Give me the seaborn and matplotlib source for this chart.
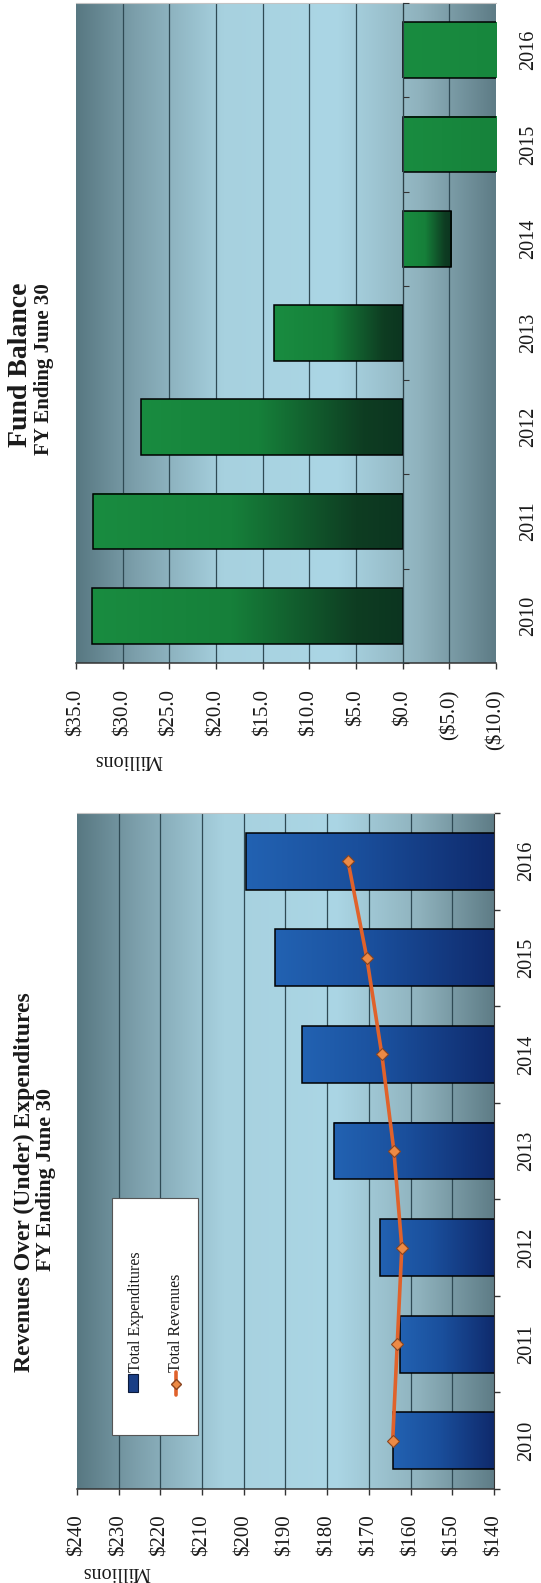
import numpy as np
import matplotlib
matplotlib.use("Agg")
import matplotlib.pyplot as plt
from matplotlib.patches import Rectangle
from matplotlib.colors import LinearSegmentedColormap
import seaborn as sns

years = ["2010", "2011", "2012", "2013", "2014", "2015", "2016"]
total_expenditures = [164.2, 162.6, 167.3, 178.3, 186.0, 192.6, 199.4]
total_revenues = [164.3, 163.2, 162.1, 164.0, 166.9, 170.5, 175.0]
# 2015 / 2016 run off the bottom of the axis (clipped at -10)
fund_balance = [33.25, 33.2, 28.0, 13.8, -5.2, -27.4, -51.8]

rev_ticks = list(range(140, 241, 10))
fund_ticks = list(range(-10, 36, 5))

sns.set_style("white")
plt.rcParams['font.family'] = ['Liberation Serif', 'DejaVu Serif']
plt.rcParams['text.color'] = '#1a1a1a'

TXT = '#1a1a1a'
AXC = '#333333'

bg_cmap = LinearSegmentedColormap.from_list('bg', [
    (0.0, '#587882'), (0.14, '#7c9fab'), (0.35, '#a7d1df'),
    (0.62, '#abd6e5'), (0.82, '#8fb2bd'), (1.0, '#5e7c86')])
blue_cmap = LinearSegmentedColormap.from_list('blue', [
    (0.0, '#2262b2'), (0.45, '#1a4f9c'), (1.0, '#0f2a6c')])
green_cmap = LinearSegmentedColormap.from_list('green', [
    (0.0, '#198c40'), (0.45, '#16803a'), (0.85, '#0e3d22'), (1.0, '#0c3520')])


def gradient_bg(ax):
    grad = bg_cmap(np.linspace(0, 1, 256))[None, :, :3]
    ax.imshow(grad, extent=(0, 1, 0, 1), transform=ax.transAxes,
              aspect='auto', zorder=0, interpolation='bilinear')


def shade_bars(ax, cmap, base=None):
    grad = cmap(np.linspace(0, 1, 256))[None, :, :3]
    for p in list(ax.patches):
        x0 = p.get_x()
        x1 = x0 + p.get_width()
        lo, hi = min(x0, x1), max(x0, x1)
        if base is not None:
            lo = max(lo, base)
        ax.imshow(grad, extent=(hi, lo, p.get_y(), p.get_y() + p.get_height()),
                  aspect='auto', zorder=2, interpolation='bilinear')
        p.set_facecolor('none')
        p.set_zorder(3)


def style_axes(ax, ticks, labels, pad_x, pad_y):
    ax.set_xticks(ticks, labels=labels)
    ax.tick_params(axis='x', which='major', bottom=True, top=False, direction='out',
                   length=4, width=1, color=AXC, pad=pad_x, labelsize=15,
                   labelrotation=90, labelcolor=TXT)
    ax.yaxis.tick_right()
    ax.tick_params(axis='y', which='major', left=False, right=False, labelleft=False,
                   labelright=True, labelrotation=90, pad=pad_y, labelsize=14.5,
                   labelcolor=TXT)
    for t in ax.get_yticklabels():
        t.set_va('center')
    ax.set_xlabel('')
    ax.set_ylabel('')
    ax.spines['left'].set_visible(False)
    ax.spines['top'].set_color('#c4c4c4')
    ax.spines['bottom'].set_color(AXC)
    ax.spines['bottom'].set_linewidth(1.1)
    ax.grid(axis='x', which='major', color='#2f4a54', linewidth=0.9)
    ax.grid(axis='y', visible=False)
    ax.set_axisbelow(True)
    # no grid line on the outer edges of the plot area
    for tk, v in zip(ax.xaxis.get_major_ticks(), ticks):
        if v in (min(ticks), max(ticks)):
            tk.gridline.set_visible(False)


fig = plt.figure(figsize=(5.41, 15.83), dpi=100)
ax_fund = fig.add_axes([0.1405, 0.5812, 0.7763, 0.4169])
ax_rev = fig.add_axes([0.1423, 0.0594, 0.7708, 0.4270])

# ---------------- Fund Balance (top) ----------------
sns.barplot(x=fund_balance, y=years, orient='h', color='#16803a', width=0.59,
            edgecolor='black', linewidth=1.1, saturation=1, errorbar=None, ax=ax_fund)
gradient_bg(ax_fund)
shade_bars(ax_fund, green_cmap)

# category axis sits at $0 (twin only carries that line and its ticks)
ax_fz = ax_fund.twinx()
ax_fz.set_ylim(-0.5, 6.5)
ax_fz.spines['right'].set_position(('data', 0))
ax_fz.spines['right'].set_color('#2c3f46')
for s in ['left', 'top', 'bottom']:
    ax_fz.spines[s].set_visible(False)
ax_fz.set_yticks(np.arange(-0.5, 7, 1))
ax_fz.tick_params(axis='y', right=True, left=False, direction='out', length=4,
                  color=AXC, labelright=False, labelleft=False)
ax_fz.grid(False)

fund_labels = [f"${v:.1f}" if v >= 0 else f"(${-v:.1f})" for v in fund_ticks]
style_axes(ax_fund, fund_ticks, fund_labels, pad_x=15, pad_y=13)
ax_fund.spines['right'].set_visible(False)
ax_fund.set_xlim(35, -10)
ax_fund.set_ylim(-0.5, 6.5)

# ---------------- Revenues vs Expenditures (bottom) ----------------
sns.barplot(x=total_expenditures, y=years, orient='h', color='#1a4f9c', width=0.59,
            edgecolor='black', linewidth=1.1, saturation=1, errorbar=None, ax=ax_rev)
gradient_bg(ax_rev)
shade_bars(ax_rev, blue_cmap, base=rev_ticks[0])
sns.lineplot(x=total_revenues, y=list(range(len(years))), sort=False, estimator=None,
             orient='y', color='#e0622b', linewidth=2.6, marker='D', markersize=6,
             markerfacecolor='#ec8a45', markeredgecolor='#8a4420', markeredgewidth=0.8,
             legend=False, zorder=4, ax=ax_rev)
style_axes(ax_rev, rev_ticks, [f"${v}" for v in rev_ticks], pad_x=14, pad_y=13)
ax_rev.spines['right'].set_color(AXC)
ax_rev.set_yticks(np.arange(-0.5, 7, 1), minor=True)
ax_rev.tick_params(axis='y', which='minor', right=True, left=False, direction='out',
                   length=4, width=1, color=AXC)
ax_rev.set_xlim(240, 140)
ax_rev.set_ylim(-0.5, 6.5)

# legend box (drawn by hand so it can be turned with the page)
ax_rev.add_patch(Rectangle((0.084, 0.080), 0.206, 0.350, transform=ax_rev.transAxes,
                           facecolor='white', edgecolor='#555555', linewidth=0.8, zorder=6))
ax_rev.add_patch(Rectangle((0.1223, 0.1435), 0.024, 0.0266, transform=ax_rev.transAxes,
                           facecolor='#1a3f86', edgecolor='#0b1a3a', linewidth=0.8, zorder=7))
ax_rev.plot([0.2374, 0.2374], [0.139, 0.173], transform=ax_rev.transAxes,
            color='#e0622b', linewidth=2.6, zorder=7)
ax_rev.plot([0.2374], [0.156], transform=ax_rev.transAxes, marker='D', markersize=5,
            markerfacecolor='#ec8a45', markeredgecolor='#8a4420', zorder=8)
ax_rev.text(0.1415, 0.173, "Total Expenditures", transform=ax_rev.transAxes, rotation=90,
            ha='center', va='bottom', fontsize=11.5, color=TXT, zorder=8)
ax_rev.text(0.2374, 0.173, "Total Revenues", transform=ax_rev.transAxes, rotation=90,
            ha='center', va='bottom', fontsize=11.5, color=TXT, zorder=8)

# titles and unit labels (page is turned 90 degrees)
fig.text(0.0388, 0.7694, "Fund Balance", rotation=90, ha='center', va='center',
         fontsize=20, fontweight='bold', color=TXT)
fig.text(0.0813, 0.7669, "FY Ending June 30", rotation=90, ha='center', va='center',
         fontsize=15, fontweight='bold', color=TXT)
fig.text(0.0444, 0.2533, "Revenues Over (Under) Expenditures", rotation=90, ha='center',
         va='center', fontsize=17, fontweight='bold', color=TXT)
fig.text(0.0850, 0.2552, "FY Ending June 30", rotation=90, ha='center', va='center',
         fontsize=16, fontweight='bold', color=TXT)
fig.text(0.2366, 0.5205, "Millions", rotation=180, ha='center', va='center',
         fontsize=14.5, color=TXT)
fig.text(0.2144, 0.0070, "Millions", rotation=180, ha='center', va='center',
         fontsize=14.5, color=TXT)

fig.savefig("out.png", dpi=100, facecolor='white')
